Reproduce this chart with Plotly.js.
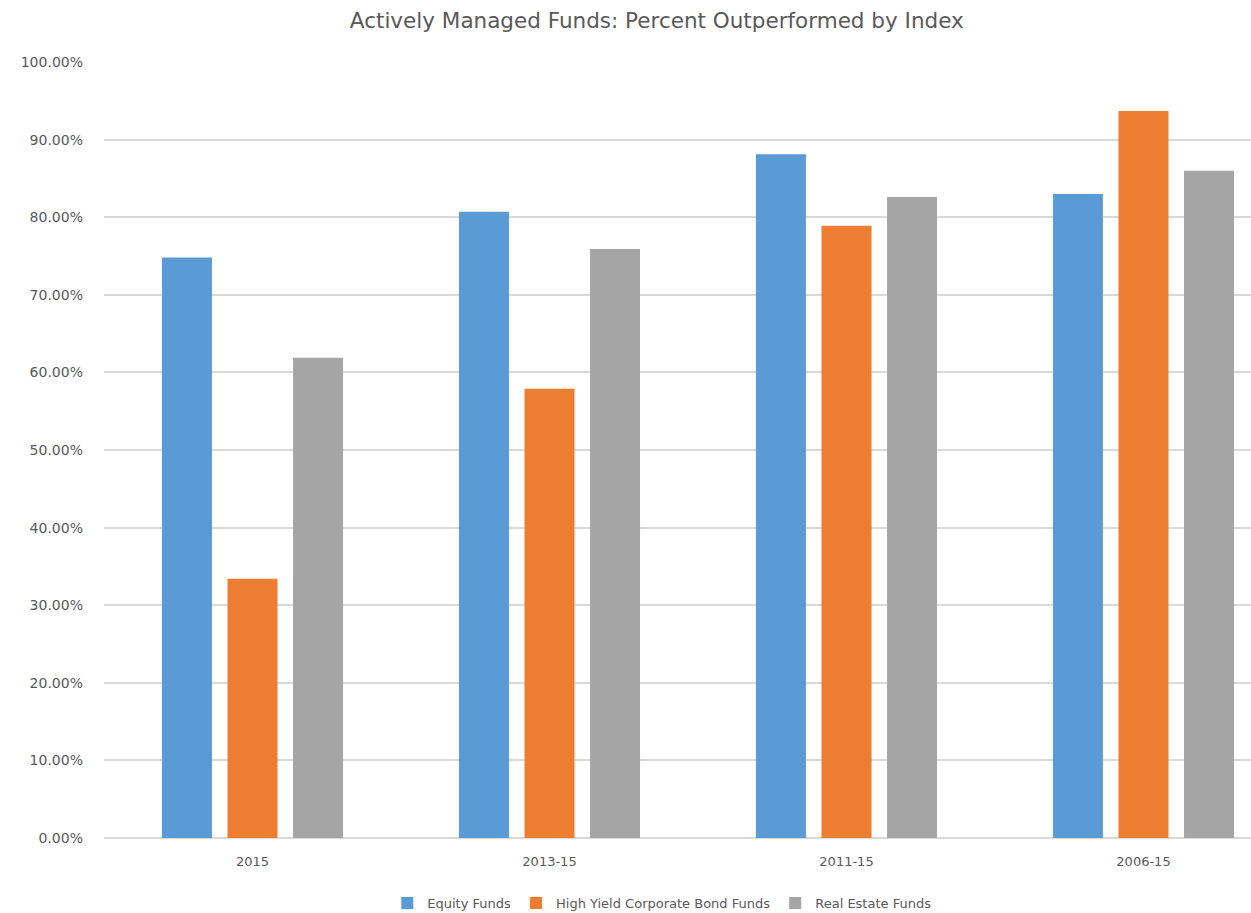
<!DOCTYPE html>
<html>
<head>
<meta charset="utf-8">
<script src="https://cdn.plot.ly/plotly-3.0.1.min.js"></script>
<style>html,body{margin:0;padding:0;background:#fff;}#chart{width:1251px;height:913px;}</style>
</head>
<body>
<div id="chart"></div>
<script>
const categories = ["2015", "2013-15", "2011-15", "2006-15"];
const equityFunds = [0.748, 0.807, 0.881, 0.830];
const highYieldFunds = [0.334, 0.579, 0.789, 0.937];
const realEstateFunds = [0.619, 0.759, 0.826, 0.860];
const seriesNames = ["Equity Funds", "High Yield Corporate Bond Funds", "Real Estate Funds"];
const colors = ["#5B9BD5", "#ED7D31", "#A5A5A5"];

const font = "'DejaVu Sans', sans-serif";
const data = [equityFunds, highYieldFunds, realEstateFunds].map((v, i) => ({
  type: "bar", x: categories, y: v, name: seriesNames[i],
  marker: {color: colors[i]}, hoverinfo: "x+y"
}));

const layout = {
  width: 1251, height: 913,
  margin: {l: 104, r: 0, t: 62, b: 75},
  paper_bgcolor: "#fff", plot_bgcolor: "#fff",
  font: {family: font, color: "#595959", size: 13},
  title: {text: "Actively Managed Funds: Percent Outperformed by Index",
    font: {family: font, size: 21.5, color: "#595959"},
    x: 0.525, xref: "container", xanchor: "center", y: 0.978, yref: "container", yanchor: "middle",
    automargin: false},
  barmode: "group", bargap: 0.338, bargroupgap: 0.237,
  xaxis: {range: [-0.5, 3.362], showgrid: false, showline: false, zeroline: false, automargin: false,
    ticks: "", tickfont: {size: 13, color: "#595959"}, ticklabelstandoff: 14, fixedrange: true},
  yaxis: {range: [0, 1], dtick: 0.1, tick0: 0, tickformat: ".2%", showgrid: true, automargin: false,
    gridcolor: "#D9D9D9", gridwidth: 2, zeroline: true, zerolinecolor: "#D9D9D9", zerolinewidth: 2,
    showline: false, ticks: "", ticklabelstandoff: 20, tickfont: {size: 14, color: "#595959"}, fixedrange: true},
  showlegend: true,
  legend: {orientation: "h", x: 0.529, xref: "container", xanchor: "center",
    y: 0.011, yref: "container", yanchor: "middle",
    font: {size: 13, color: "#595959"}, itemwidth: 30, traceorder: "normal"}
};

Plotly.newPlot("chart", data, layout, {displayModeBar: false, responsive: false});
</script>
</body>
</html>
